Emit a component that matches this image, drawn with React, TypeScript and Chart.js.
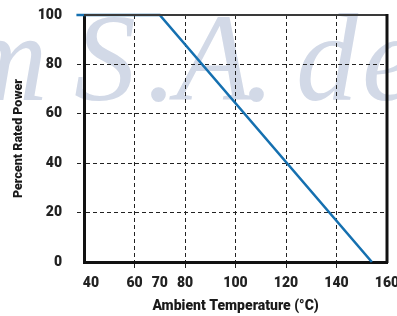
import React, { useEffect, useRef } from "react";
import { Chart, registerables } from "chart.js";

Chart.register(...registerables);

// ---- data ----
const temperature = [37, 70, 154];
const ratedPower = [100, 100, 0];
const xTickValues = [40, 60, 70, 80, 100, 120, 140, 160];
const xGridValues = [60, 80, 100, 120, 140];
const yTickValues = [0, 20, 40, 60, 80, 100];
const yGridValues = [20, 40, 60, 80];
const xTitle = "Ambient Temperature (°C)";
const yTitle = "Percent Rated Power";
const watermarkText = ["m", "S", ".", "A", ".", "d", "e"];

const FONT = "Roboto, 'Liberation Sans', sans-serif";

const watermarkPlugin = {
  id: "watermark",
  beforeDraw(chart: any) {
    const ctx = chart.ctx;
    const xs = [-42, 74, 146, 176, 244, 296, 362];
    ctx.save();
    ctx.font = "italic 124px 'Liberation Serif', serif";
    ctx.fillStyle = "#d2d9e7";
    ctx.textBaseline = "alphabetic";
    watermarkText.forEach((ch, i) => ctx.fillText(ch, xs[i], 100));
    ctx.restore();
  },
};

const framePlugin = {
  id: "frame",
  afterDraw(chart: any) {
    const { ctx, chartArea: a } = chart;
    ctx.save();
    ctx.lineWidth = 2;
    ctx.strokeStyle = "#3a3a3a";
    ctx.beginPath();
    ctx.moveTo(a.left, a.top);
    ctx.lineTo(a.right, a.top);
    ctx.stroke();
    ctx.lineWidth = 3;
    ctx.strokeStyle = "#111";
    ctx.beginPath();
    ctx.moveTo(a.right, a.top - 1);
    ctx.lineTo(a.right, a.bottom + 1);
    ctx.stroke();
    ctx.restore();
  },
};

export default function App() {
  const ref = useRef<HTMLCanvasElement | null>(null);

  useEffect(() => {
    if (!ref.current) return;
    const chart = new Chart(ref.current, {
      type: "line",
      data: {
        datasets: [
          {
            data: temperature.map((t, i) => ({ x: t, y: ratedPower[i] })),
            borderColor: "#1570b0",
            borderWidth: 2.6,
            pointRadius: 0,
            tension: 0,
            fill: false,
            clip: false as any,
          },
        ],
      },
      options: {
        animation: false,
        responsive: false,
        maintainAspectRatio: false,
        layout: { padding: { top: 15, right: 10, left: 0, bottom: 0 } },
        plugins: {
          legend: { display: false },
          tooltip: { enabled: false },
        },
        scales: {
          x: {
            type: "linear",
            min: 40,
            max: 160,
            afterBuildTicks: (s: any) => {
              s.ticks = xTickValues.map((v) => ({ value: v }));
            },
            afterFit: (s: any) => {
              s.height = 54;
              s.paddingLeft = 0;
              s.paddingRight = 0;
            },
            grid: {
              color: (c: any) => (xGridValues.includes(c.tick?.value) ? "#222" : "rgba(0,0,0,0)"),
              tickColor: (c: any) => (xGridValues.includes(c.tick?.value) ? "#222" : "rgba(0,0,0,0)"),
              lineWidth: 1,
              tickLength: 6,
              tickBorderDash: [4, 3],
            },
            border: { display: true, color: "#111", width: 3, dash: [4, 3] },
            ticks: {
              autoSkip: false,
              maxRotation: 0,
              padding: 7,
              color: "#222",
              font: { family: FONT, size: 14, weight: "900" },
              callback: (v: any) => (v === 40 ? "    40" : String(v)),
            },
            title: {
              display: true,
              text: xTitle,
              color: "#1a1a1a",
              font: { family: FONT, size: 14, weight: "900" },
              padding: { top: 0, bottom: 1 },
            },
          },
          y: {
            type: "linear",
            min: 0,
            max: 100,
            afterBuildTicks: (s: any) => {
              s.ticks = yTickValues.map((v) => ({ value: v }));
            },
            afterFit: (s: any) => {
              s.width = 84;
              s.paddingTop = 0;
              s.paddingBottom = 0;
            },
            grid: {
              color: (c: any) => (yGridValues.includes(c.tick?.value) ? "#222" : "rgba(0,0,0,0)"),
              tickColor: (c: any) => (yGridValues.includes(c.tick?.value) ? "#222" : "rgba(0,0,0,0)"),
              lineWidth: 1,
              tickLength: 7,
              tickBorderDash: [4, 3],
            },
            border: { display: true, color: "#111", width: 3, dash: [4, 3] },
            ticks: {
              padding: 15,
              color: "#222",
              font: { family: FONT, size: 14, weight: "900" },
              callback: (v: any) => String(v),
            },
            title: {
              display: true,
              text: yTitle,
              color: "#1a1a1a",
              font: { family: FONT, size: 12.5, weight: "900" },
              padding: { top: 11, bottom: 0 },
            },
          },
        },
      },
      plugins: [watermarkPlugin, framePlugin],
    });
    return () => chart.destroy();
  }, []);

  return (
    <div style={{ position: "fixed", left: 0, top: 0, width: 397, height: 316, background: "#fff" }}>
      <canvas ref={ref} width={397} height={316} style={{ width: 397, height: 316 }} />
    </div>
  );
}
